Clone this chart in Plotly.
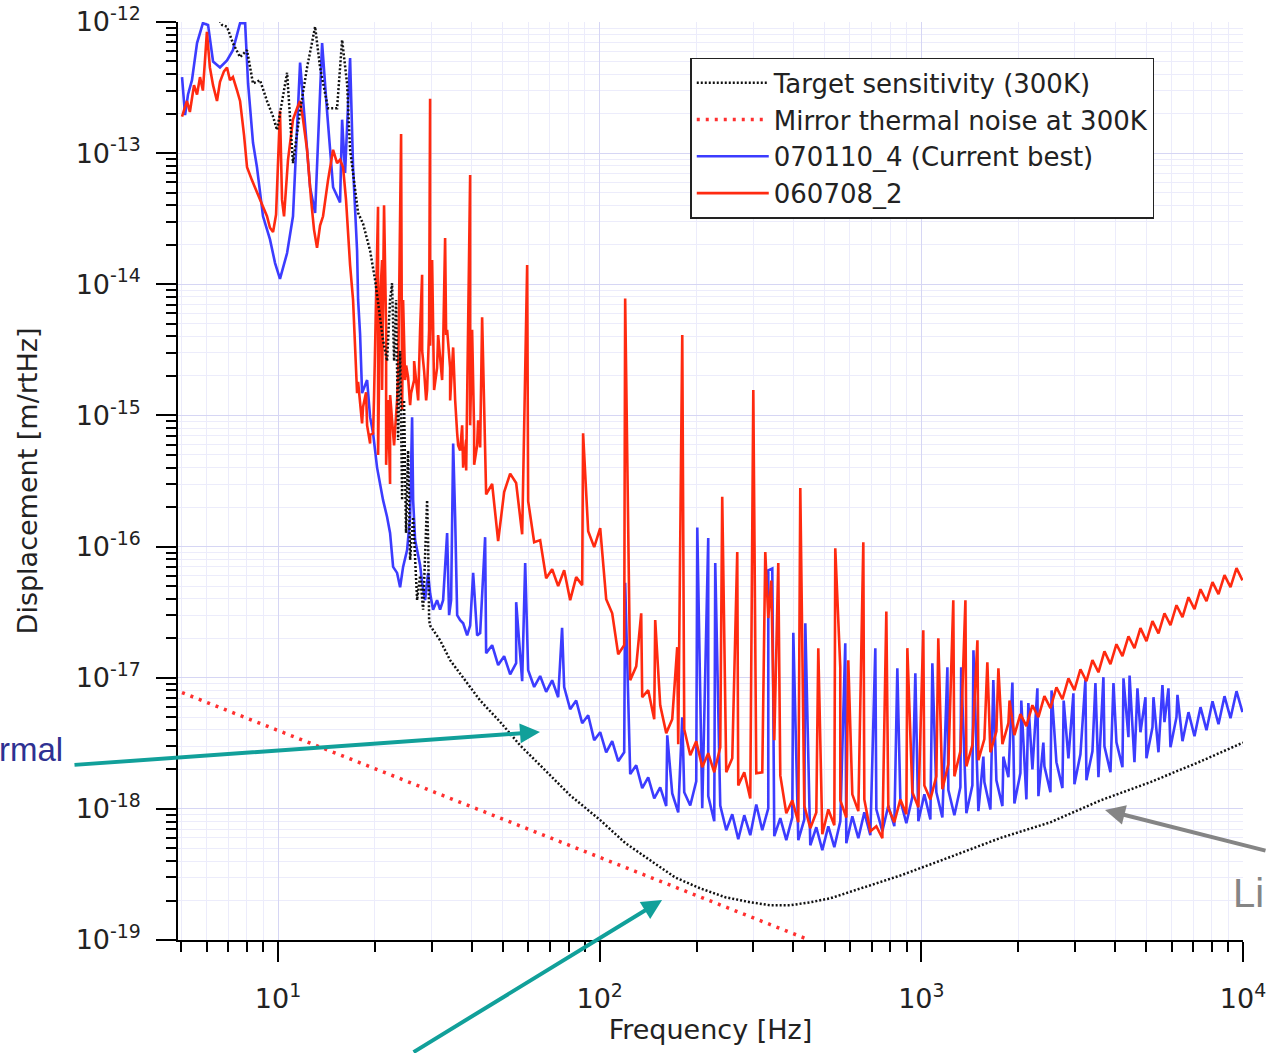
import plotly.graph_objects as go

# ======================= data =======================
# --- Target sensitivity (300K) ---
target_freq = [6.3, 6.70, 6.94, 7.24, 7.62, 8.01, 8.36, 8.79, 9.24, 9.65,
               9.93, 10.67, 11.13, 11.71, 12.31, 13.04, 13.51, 14.3, 15.26, 15.82,
               16.39, 16.75, 17.74, 18.38, 19.33, 20.03, 21.21, 21.83, 22.3, 22.62,
               22.95, 23.28, 23.62, 23.96, 24.31, 24.65, 25.0, 25.37, 25.74, 26.3,
               27.06, 27.65, 28.25, 28.66, 29.07, 29.28, 29.49, 29.7, 31.9, 34.28,
               38.72, 42.5, 49.04, 56.57, 65.3, 80.9, 100.4, 120, 143.6, 171.7,
               205, 245.7, 294, 339, 391, 451.6, 521, 646, 860, 1231,
               1761, 2519, 3604, 5157, 7377, 10000]
target_disp = [1.23e-12, 9.5e-13, 9.2e-13, 6.9e-13, 5.4e-13, 6.1e-13, 3.4e-13, 3.6e-13, 2.5e-13, 1.9e-13,
               1.5e-13, 4.1e-13, 8.4e-14, 2.1e-13, 4.5e-13, 9.2e-13, 4.5e-13, 2.2e-13, 2.2e-13, 7.3e-13,
               3.4e-13, 1.06e-13, 3.5e-14, 2.9e-14, 1.8e-14, 1.08e-14, 3.75e-15, 2.6e-15, 7.6e-15, 1.02e-14,
               2.6e-15, 7.6e-15, 6.5e-16, 3.1e-15, 2.26e-16, 1.31e-15, 1.27e-16, 5.4e-16, 7.9e-17, 1.68e-16,
               3.9e-17, 6.0e-17, 3.3e-17, 7.9e-17, 2.26e-16, 1.12e-16, 2.75e-17, 2.5e-17, 1.93e-17, 1.36e-17,
               9.1e-18, 6.7e-18, 4.6e-18, 3.05e-18, 2.15e-18, 1.27e-18, 8.2e-19, 5.5e-19, 4.05e-19, 3.0e-19,
               2.48e-19, 2.12e-19, 1.94e-19, 1.84e-19, 1.84e-19, 1.94e-19, 2.08e-19, 2.48e-19, 3.1e-19, 4.3e-19,
               6.0e-19, 7.9e-19, 1.16e-18, 1.6e-18, 2.3e-18, 3.2e-18]

# --- Mirror thermal noise at 300K ---
thermal_freq = [5.03, 100.0, 435.0]
thermal_disp = [7.7e-18, 4.3e-19, 1.03e-19]

# --- 070110_4 (Current best): below 42 Hz ---
best_low_freq = [5.03, 5.14, 5.25, 5.40, 5.60, 5.84, 6.06, 6.28, 6.60, 6.94,
                 7.24, 7.62, 7.90, 8.07, 8.36, 8.60, 8.98, 9.44, 9.79, 10.14,
                 10.67, 11.13, 11.71, 11.96, 12.58, 13.04, 13.71, 14.2, 14.83, 15.59,
                 15.82, 16.16, 16.75, 17.11, 17.61, 17.74, 17.99, 18.25, 18.92, 19.33,
                 19.75, 20.32, 20.76, 21.21, 21.83, 22.3, 22.79, 23.45, 23.96, 24.48,
                 25.19, 25.74, 26.11, 26.3, 26.68, 27.06, 27.65, 28.05, 28.66, 29.28,
                 29.7, 30.34, 31.22, 31.9, 32.6, 33.55, 34.03, 34.52, 35.03, 35.53,
                 36.05, 36.83, 37.63, 38.72, 39.56, 40.42, 41.59]
best_low_disp = [3.8e-13, 1.95e-13, 2.8e-13, 3.6e-13, 6.9e-13, 9.8e-13, 9.5e-13, 5.0e-13, 4.5e-13, 5.1e-13,
                 6.1e-13, 9.8e-13, 9.8e-13, 3.4e-13, 1.2e-13, 7.8e-14, 3.3e-14, 2.2e-14, 1.45e-14, 1.1e-14,
                 1.73e-14, 3.3e-14, 4.9e-13, 2.5e-13, 5.5e-14, 3.5e-14, 6.9e-13, 2.1e-13, 5.5e-14, 4.2e-14,
                 1.8e-13, 7.05e-14, 5.3e-13, 7.8e-14, 1.8e-14, 7.6e-15, 4.2e-15, 1.48e-15, 1.86e-15, 9.7e-16,
                 7.3e-16, 4.0e-16, 3.0e-16, 2.26e-16, 1.68e-16, 1.27e-16, 7.0e-17, 6.3e-17, 4.9e-17, 7.0e-17,
                 9.4e-17, 1.68e-16, 9.7e-16, 2.26e-16, 1.12e-16, 9.4e-17, 7.2e-17, 5.3e-17, 3.9e-17, 6.3e-17,
                 4.4e-17, 3.3e-17, 3.9e-17, 3.3e-17, 3.9e-17, 1.27e-16, 3.0e-17, 3.9e-17, 6.1e-16, 1.68e-16,
                 3.0e-17, 2.75e-17, 2.6e-17, 2.1e-17, 2.5e-17, 6.3e-17, 2.1e-17]

# --- 060708_2: below 42 Hz ---
old_low_freq = [5.03, 5.14, 5.21, 5.32, 5.48, 5.60, 5.72, 5.84, 6.01, 6.14,
                6.28, 6.46, 6.60, 6.79, 6.94, 7.09, 7.24, 7.46, 7.62, 7.84,
                8.01, 8.30, 8.60, 8.92, 9.24, 9.44, 9.65, 9.86, 10.14, 10.29,
                10.44, 10.74, 11.13, 11.46, 11.71, 11.96, 12.31, 12.67, 12.94, 13.22,
                13.51, 13.8, 14.3, 14.83, 15.26, 15.59, 15.93, 16.27, 16.51, 16.75,
                17.11, 17.36, 17.61, 17.99, 18.38, 18.92, 19.33, 19.75, 20.17, 20.46,
                20.76, 21.06, 21.36, 21.68, 21.98, 22.3, 22.79, 23.45, 23.79, 24.13,
                24.48, 24.83, 25.37, 25.92, 26.49, 27.06, 27.65, 28.05, 28.45, 29.07,
                29.49, 29.7, 30.13, 30.56, 31.22, 31.9, 32.6, 33.07, 33.55, 34.28,
                35.03, 35.53, 36.05, 36.83, 37.63, 38.44, 38.99, 39.56, 40.12, 40.7,
                41.59]
old_low_disp = [1.9e-13, 2.3e-13, 2.5e-13, 2.06e-13, 3.3e-13, 2.8e-13, 3.8e-13, 3.0e-13, 8.4e-13, 4.5e-13,
                3.3e-13, 2.5e-13, 3.5e-13, 4.2e-13, 4.5e-13, 3.6e-13, 3.8e-13, 3.0e-13, 2.5e-13, 1.37e-13,
                7.8e-14, 6.2e-14, 5.0e-14, 4.0e-14, 3.3e-14, 2.7e-14, 2.5e-14, 3.4e-14, 2.1e-13, 4.4e-14,
                3.3e-14, 8.9e-14, 1.8e-13, 2.2e-13, 2.5e-13, 1.8e-13, 1.06e-13, 4.4e-14, 2.6e-14, 1.9e-14,
                2.8e-14, 3.3e-14, 6.2e-14, 1.06e-13, 8.4e-14, 8.9e-14, 7.8e-14, 4.4e-14, 2.5e-14, 1.4e-14,
                7.6e-15, 3.1e-15, 1.48e-15, 1.31e-15, 1.16e-15, 8.4e-16, 6.1e-16, 7.3e-16, 7.6e-15, 3.9e-14,
                7.6e-15, 1.53e-14, 4.0e-14, 4.5e-15, 1.31e-15, 3.0e-16, 7.3e-16, 1.31e-15, 7.6e-15, 1.4e-13,
                7.6e-15, 1.86e-15, 1.96e-15, 1.48e-15, 1.86e-15, 1.48e-15, 4.5e-15, 1.18e-14, 2.2e-15, 1.56e-15,
                4.5e-15, 2.6e-13, 1.53e-14, 1.56e-15, 2.3e-15, 2.9e-15, 3.3e-15, 2.25e-14, 4.5e-15, 2.3e-15,
                3.3e-15, 1.31e-15, 7.3e-16, 5.4e-16, 4.0e-16, 6.5e-16, 7.6e-15, 6.8e-14, 4.5e-15, 7.7e-16,
                5.9e-16]

# --- 060708_2: noisy band 17-42 Hz (upper / lower edge, alternately) ---
old_mid_freq = [17.74, 18.25, 18.78, 19.33, 19.89, 20.47, 21.06, 21.68, 22.31, 22.95,
                23.62, 24.31, 25.02, 25.74, 26.49, 27.27, 28.06, 28.87, 29.71, 30.57,
                31.46, 32.37, 33.31, 34.28, 35.28, 36.31, 37.36, 38.45, 39.56, 40.71,
                41.89]
old_mid_disp = [1.8e-15, 8.7e-16, 1.5e-15, 7.1e-16, 1.43e-15, 5.0e-16, 1.56e-15, 4.2e-16, 1.43e-15, 5.9e-16,
                2.0e-15, 1.1e-15, 2.4e-15, 1.2e-15, 2.6e-15, 1.3e-15, 3.1e-15, 1.3e-15, 3.4e-15, 1.56e-15,
                4.1e-15, 1.86e-15, 4.1e-15, 1.3e-15, 2.0e-15, 5.9e-16, 8.4e-16, 3.8e-16, 8.4e-16, 4.2e-16,
                9.2e-16]

# --- noise floor from 42 Hz to 10 kHz (upper / lower edge of the band, alternately) ---
band_freq = [42.50, 44.36, 46.31, 48.34, 50.46, 52.68, 54.99, 57.41, 59.93, 62.56,
             65.30, 68.17, 71.16, 74.29, 77.55, 80.95, 84.51, 88.22, 92.09, 96.14,
             100.36, 104.77, 109.37, 114.17, 119.18, 124.42, 129.88, 135.58, 141.54, 147.75,
             154.24, 161.01, 168.08, 175.46, 183.17, 191.21, 199.61, 208.37, 217.52, 227.07,
             237.04, 247.45, 258.32, 269.66, 281.50, 293.86, 306.77, 320.24, 334.30, 348.98,
             364.30, 380.30, 397.00, 414.43, 432.63, 451.63, 471.46, 492.16, 513.77, 536.33,
             559.88, 584.46, 610.13, 636.92, 664.88, 694.08, 724.55, 756.37, 789.58, 824.25,
             860.44, 898.22, 937.66, 978.83, 1021.8, 1066.7, 1113.5, 1162.4, 1213.4, 1266.7,
             1322.3, 1380.4, 1441.0, 1504.3, 1570.3, 1639.3, 1711.2, 1786.4, 1864.8, 1946.7,
             2032.2, 2121.4, 2214.6, 2311.8, 2413.3, 2519.3, 2629.9, 2745.4, 2865.9, 2991.8,
             3123.1, 3260.2, 3403.4, 3552.8, 3708.8, 3871.7, 4041.7, 4219.1, 4404.4, 4597.8,
             4799.6, 5010.4, 5230.4, 5460.0, 5699.8, 5950.0, 6211.3, 6484.0, 6768.7, 7065.9,
             7376.2, 7700.1, 8038.2, 8391.1, 8759.6, 9144.2, 9545.7, 9964.2]
best_band_disp = [2.19e-17, 1.54e-17, 1.77e-17, 1.25e-17, 1.46e-17, 1.06e-17, 1.29e-17, 9.4e-18, 1.14e-17, 8.5e-18,
                  1.03e-17, 7.8e-18, 9.56e-18, 7.1e-18, 8.5e-18, 5.75e-18, 6.7e-18, 4.5e-18, 5.17e-18, 3.34e-18,
                  3.84e-18, 2.7e-18, 3.28e-18, 2.31e-18, 2.7e-18, 1.84e-18, 2.15e-18, 1.44e-18, 1.74e-18, 1.2e-18,
                  1.46e-18, 1.05e-18, 1.31e-18, 9.4e-19, 1.34e-18, 1.06e-18, 1.62e-18, 1.01e-18, 1.25e-18, 8.05e-19,
                  1.06e-18, 6.87e-19, 9.1e-19, 5.87e-19, 8.94e-19, 6.3e-19, 1.08e-18, 6.87e-19, 1.01e-18, 6.19e-19,
                  8.5e-19, 5.77e-19, 8.6e-19, 5.77e-19, 8.3e-19, 5.27e-19, 7.24e-19, 4.84e-19, 7.37e-19, 5.1e-19,
                  8.05e-19, 5.47e-19, 8.77e-19, 5.97e-19, 9.4e-19, 6.3e-19, 9.9e-19, 6.75e-19, 1.06e-18, 7.37e-19,
                  1.16e-18, 7.77e-19, 1.23e-18, 8.05e-19, 1.29e-18, 8.3e-19, 1.34e-18, 8.6e-19, 1.39e-18, 8.94e-19,
                  1.46e-18, 9.25e-19, 1.51e-18, 9.6e-19, 1.6e-18, 9.9e-19, 1.65e-18, 1.05e-18, 1.74e-18, 1.1e-18,
                  1.87e-18, 1.18e-18, 2.0e-18, 1.25e-18, 2.11e-18, 1.34e-18, 2.27e-18, 1.44e-18, 2.43e-18, 1.54e-18,
                  2.61e-18, 1.65e-18, 2.75e-18, 1.74e-18, 3.0e-18, 1.9e-18, 3.22e-18, 2.08e-18, 3.52e-18, 2.27e-18,
                  3.84e-18, 2.43e-18, 4.19e-18, 2.7e-18, 4.58e-18, 2.95e-18, 5.0e-18, 3.28e-18, 5.46e-18, 3.58e-18,
                  5.96e-18, 3.98e-18, 6.62e-18, 4.42e-18, 7.23e-18, 4.91e-18, 7.89e-18, 5.46e-18]
old_band_disp = [5.7e-16, 2.5e-16, 3.0e-16, 1.1e-16, 2.6e-16, 3.6e-16, 3.05e-16, 1.24e-16, 2.22e-16, 1.08e-16,
                 1.12e-16, 5.74e-17, 6.71e-17, 4.99e-17, 6.6e-17, 3.9e-17, 5.85e-17, 5.08e-17, 1.31e-16, 9.9e-17,
                 1.38e-16, 3.97e-17, 3.1e-17, 1.51e-17, 1.77e-17, 9.56e-18, 1.22e-17, 7.1e-18, 8.04e-18, 4.83e-18,
                 6.17e-18, 3.78e-18, 4.83e-18, 3.11e-18, 4.05e-18, 2.56e-18, 3.28e-18, 2.08e-18, 2.66e-18, 1.9e-18,
                 2.95e-18, 1.9e-18, 2.43e-18, 1.51e-18, 1.9e-18, 1.2e-18, 1.87e-18, 1.9e-18, 2.85e-17, 3.34e-18,
                 1.8e-18, 9.25e-19, 1.16e-18, 7.92e-19, 1.06e-18, 7.11e-19, 9.4e-19, 6.41e-19, 9.9e-19, 7.5e-19,
                 1.16e-18, 8.6e-19, 1.29e-18, 9.6e-19, 1.18e-18, 6.75e-19, 7.37e-19, 5.97e-19, 1.01e-18, 7.92e-19,
                 1.18e-18, 9.1e-19, 1.34e-18, 1.03e-18, 1.51e-18, 1.18e-18, 1.77e-18, 1.41e-18, 2.19e-18, 1.77e-18,
                 2.75e-18, 2.11e-18, 3.06e-18, 2.35e-18, 3.4e-18, 2.7e-18, 3.9e-18, 3.11e-18, 4.5e-18, 3.65e-18,
                 5.27e-18, 4.27e-18, 6.17e-18, 5.0e-18, 7.23e-18, 5.86e-18, 8.46e-18, 6.85e-18, 9.9e-18, 8.04e-18,
                 1.16e-17, 9.4e-18, 1.36e-17, 1.1e-17, 1.59e-17, 1.27e-17, 1.8e-17, 1.46e-17, 2.07e-17, 1.68e-17,
                 2.39e-17, 1.9e-17, 2.7e-17, 2.18e-17, 3.1e-17, 2.52e-17, 3.57e-17, 2.9e-17, 4.11e-17, 3.33e-17,
                 4.73e-17, 3.83e-17, 5.35e-17, 4.34e-17, 6.05e-17, 4.9e-17, 6.85e-17, 5.53e-17]

# --- narrow line features (spikes) above 42 Hz ---
best_spike_freq = [44.04, 55.0, 58.66, 76.4, 120.0, 162.2, 180.6, 201.1, 217.5, 228.7,
                   334.3, 344.0, 399.9, 435.8, 580.1, 719.3, 842.1, 957.9, 1082, 1205,
                   1330, 1452, 1559, 1674, 1799, 1919, 2045, 2151, 2295, 2395,
                   2540, 2770, 2970, 3236, 3477, 3682, 3956, 4250, 4440, 4697,
                   4975, 5268, 5617, 5864, 6255]
best_spike_disp = [1.18e-16, 3.77e-17, 7.5e-17, 2.4e-17, 5.3e-17, 3.64e-18, 5.0e-18, 1.4e-16, 1.16e-16, 7.5e-17,
                   6.6e-17, 6.8e-17, 2.2e-17, 2.6e-17, 1.83e-17, 1.68e-17, 1.18e-17, 1.08e-17, 1.29e-17, 1.2e-17,
                   1.2e-17, 1.62e-17, 2.5e-18, 9.6e-18, 2.5e-18, 9.2e-18, 6.7e-18, 6.4e-18, 8.3e-18, 3.2e-18,
                   8.0e-18, 6.7e-18, 7.6e-18, 9.6e-18, 9.1e-18, 1.01e-17, 9.1e-18, 9.9e-18, 1.04e-17, 8.3e-18,
                   7.1e-18, 7.1e-18, 8.8e-18, 8.3e-18, 7.4e-18]
old_spike_freq = [43.1, 59.5, 88.8, 120.0, 134.6, 148.8, 174.2, 180.6, 240.4, 267.7,
                  300.3, 327.2, 341.5, 359.1, 420.4, 478.2, 540.0, 559.7, 592.7, 660.1,
                  778.3, 904.6, 1014, 1129, 1257, 1371, 1494, 1604, 1736, 1880]
old_spike_disp = [5.6e-15, 1.4e-14, 7.3e-16, 7.8e-15, 3.1e-17, 2.75e-17, 1.71e-17, 4.1e-15, 2.4e-16, 9.1e-17,
                  1.56e-15, 9.1e-17, 5.5e-17, 7.5e-17, 2.8e-16, 1.68e-17, 9.7e-17, 1.2e-17, 1.36e-17, 1.08e-16,
                  3.2e-17, 1.68e-17, 2.3e-17, 2.0e-17, 3.9e-17, 3.9e-17, 1.93e-17, 1.31e-17, 1.18e-17, 6.7e-18]

# --- ticks ---
x_tick_vals = [10, 100, 1000, 10000]
x_tick_text = ["10<sup>1</sup>", "10<sup>2</sup>", "10<sup>3</sup>", "10<sup>4</sup>"]
y_tick_vals = [1e-19, 1e-18, 1e-17, 1e-16, 1e-15, 1e-14, 1e-13, 1e-12]
y_tick_text = ["10<sup>-19</sup>", "10<sup>-18</sup>", "10<sup>-17</sup>", "10<sup>-16</sup>",
               "10<sup>-15</sup>", "10<sup>-14</sup>", "10<sup>-13</sup>", "10<sup>-12</sup>"]


def merge(*series):
    pts = []
    for f, d in series:
        assert len(f) == len(d), (len(f), len(d))
        pts.extend(zip(f, d))
    pts.sort(key=lambda p: p[0])
    return [p[0] for p in pts], [p[1] for p in pts]


assert len(target_freq) == len(target_disp)
best_x, best_y = merge((best_low_freq, best_low_disp), (band_freq, best_band_disp),
                       (best_spike_freq, best_spike_disp))
old_x, old_y = merge((old_low_freq, old_low_disp), (old_mid_freq, old_mid_disp),
                     (band_freq, old_band_disp), (old_spike_freq, old_spike_disp))

# ======================= figure =======================
FONT = "DejaVu Sans"
fig = go.Figure()
fig.add_trace(go.Scatter(x=best_x, y=best_y, mode="lines", name="070110_4 (Current best)",
                         line=dict(color="#3c3cff", width=2.6), legendrank=3))
fig.add_trace(go.Scatter(x=old_x, y=old_y, mode="lines", name="060708_2",
                         line=dict(color="#ff2a10", width=2.6), legendrank=4))
fig.add_trace(go.Scatter(x=target_freq, y=target_disp, mode="lines", name="Target sensitivity (300K)",
                         line=dict(color="#111111", width=2.5, dash="2px,2px"), legendrank=1))
fig.add_trace(go.Scatter(x=thermal_freq, y=thermal_disp, mode="lines", name="Mirror thermal noise at 300K",
                         line=dict(color="#ff3030", width=3.5, dash="3px,6px"), legendrank=2))

minor_x = [m * 10 ** k for k in range(0, 4) for m in range(2, 10)]
minor_y = [m * 10.0 ** k for k in range(-19, -12) for m in range(2, 10)]

axis_common = dict(
    type="log", showline=True, linecolor="black", linewidth=1.5, mirror=False,
    ticks="outside", ticklen=20, tickwidth=1.5, tickcolor="black", automargin=False,
    showgrid=True, gridcolor="#d6d6f4", gridwidth=1, zeroline=False,
    tickfont=dict(family=FONT, size=27, color="#222222"),
)
fig.update_xaxes(**axis_common, range=[0.689, 4.0], tickmode="array",
                 tickvals=x_tick_vals, ticktext=x_tick_text, ticklabelstandoff=14,
                 minor=dict(tickmode="array", tickvals=minor_x, ticks="outside", ticklen=10,
                            tickwidth=1.5, tickcolor="black", showgrid=True, gridcolor="#ececfb"),
                 title=dict(text="Frequency [Hz]", font=dict(family=FONT, size=27, color="#222222"),
                            standoff=6))
fig.update_yaxes(**axis_common, range=[-19, -12], tickmode="array",
                 tickvals=y_tick_vals, ticktext=y_tick_text, ticklabelstandoff=10,
                 minor=dict(tickmode="array", tickvals=minor_y, ticks="outside", ticklen=10,
                            tickwidth=1.5, tickcolor="black", showgrid=True, gridcolor="#ececfb"),
                 title=dict(text="Displacement [m/rtHz]", font=dict(family=FONT, size=27, color="#222222"),
                            standoff=30))

fig.update_layout(
    width=1267, height=1053, autosize=False,
    margin=dict(l=178, r=24, t=22, b=113),
    paper_bgcolor="white", plot_bgcolor="white",
    font=dict(family=FONT, color="#222222"),
    showlegend=True,
    legend=dict(x=0.481, y=0.961, xanchor="left", yanchor="top",
                bgcolor="white", bordercolor="#222222", borderwidth=1.5,
                font=dict(family=FONT, size=26, color="#222222"), itemwidth=72,
                tracegroupgap=0),
    annotations=[
        dict(xref="paper", yref="paper", x=-0.106, y=0.207, xanchor="right", yanchor="middle",
             text="rmal", showarrow=False,
             font=dict(family="Liberation Sans", size=33, color="#2e3192")),
        dict(xref="paper", yref="paper", x=0.3399, y=0.2266, text="", showarrow=True,
             ax=-467, ay=33, arrowcolor="#11a09a", arrowwidth=4, arrowhead=2, arrowsize=1),
        dict(xref="paper", yref="paper", x=0.4545, y=0.0436, text="", showarrow=True,
             ax=-250, ay=165, arrowcolor="#11a09a", arrowwidth=4, arrowhead=2, arrowsize=1),
        dict(xref="paper", yref="paper", x=0.8704, y=0.1416, text="", showarrow=True,
             ax=175, ay=41, arrowcolor="#858585", arrowwidth=4, arrowhead=2, arrowsize=1),
        dict(xref="paper", yref="paper", x=0.9885, y=0.0512, xanchor="left", yanchor="middle",
             text="Li", showarrow=False,
             font=dict(family="Liberation Sans", size=40, color="#858585")),
    ],
)

fig.write_html("out.html")
